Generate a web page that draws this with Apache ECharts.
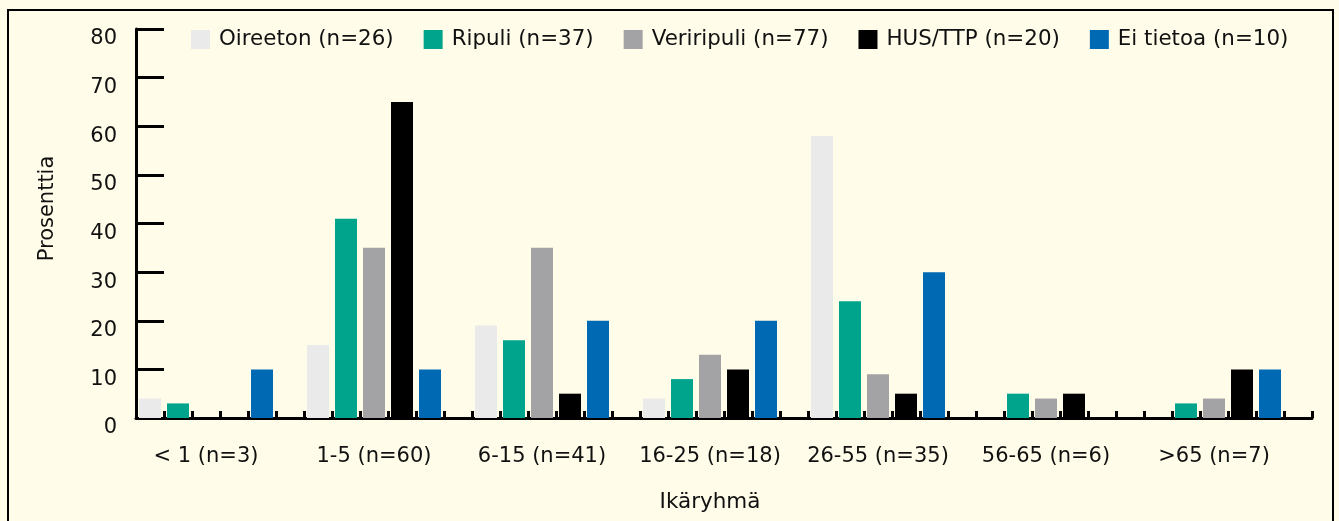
<!DOCTYPE html>
<html>
<head>
<meta charset="utf-8">
<script src="https://cdn.jsdelivr.net/npm/echarts@6/dist/echarts.min.js"></script>
<style>
html,body{margin:0;padding:0;background:#FFFCE9;}
#chart{width:1339px;height:521px;}
</style>
</head>
<body>
<div id="chart"></div>
<script>
const categories = ['< 1 (n=3)', '1-5 (n=60)', '6-15 (n=41)', '16-25 (n=18)', '26-55 (n=35)', '56-65 (n=6)', '>65 (n=7)'];
const seriesNames = ['Oireeton (n=26)', 'Ripuli (n=37)', 'Veriripuli (n=77)', 'HUS/TTP (n=20)', 'Ei tietoa (n=10)'];
const oireeton   = [4, 15, 19, 4, 58, 0, 0];
const ripuli     = [3, 41, 16, 8, 24, 5, 3];
const veriripuli = [0, 35, 35, 13, 9, 4, 4];
const husTtp     = [0, 65, 5, 10, 5, 5, 10];
const eiTietoa   = [10, 10, 20, 20, 30, 0, 10];
const yTicks = [0, 10, 20, 30, 40, 50, 60, 70, 80];
const colors = ['#EAEAEA', '#00A38B', '#A3A3A5', '#000000', '#0069B4'];

const values = [oireeton, ripuli, veriripuli, husTtp, eiTietoa];
const FONT = 'DejaVu Sans';
// slot axis: 6 slots per category (5 bars + gap) for the minor ticks
const slots = [];
categories.forEach(c => { for (let i = 0; i < 6; i++) slots.push(c + '#' + i); });

const series = values.map((v, i) => ({
  name: seriesNames[i],
  type: 'bar',
  data: v.map(x => x === 0 ? null : x),
  barWidth: 22,
  barGap: '27.3%',
  itemStyle: { color: colors[i] },
  z: 3
}));
series.push({
  name: '_gap',
  type: 'bar',
  data: categories.map(() => null),
  barWidth: 22,
  barGap: '27.3%',
  itemStyle: { color: 'transparent' }
});

const chart = echarts.init(document.getElementById('chart'));
chart.setOption({
  backgroundColor: '#FFFCE9',
  animation: false,
  textStyle: { fontFamily: FONT },
  graphic: [{
    type: 'rect',
    shape: { x: 8, y: 10, width: 1325, height: 530 },
    style: { fill: 'none', stroke: '#000', lineWidth: 2 },
    silent: true
  }],
  legend: {
    data: seriesNames,
    left: 191,
    top: 29,
    padding: 0,
    itemWidth: 19,
    itemHeight: 19,
    itemGap: 30,
    icon: 'rect',
    textStyle: { fontFamily: FONT, fontSize: 21.4, color: '#111', padding: [0, 0, 0, 4] }
  },
  grid: { left: 136, right: 27, top: 29, bottom: 103, containLabel: false },
  xAxis: [{
    type: 'category',
    data: categories,
    axisLine: { lineStyle: { color: '#000', width: 3 } },
    axisTick: { show: false },
    axisLabel: { interval: 0, color: '#111', fontSize: 21, fontFamily: FONT, margin: 28, padding: [0, 28, 0, 0] },
    name: 'Ikäryhmä',
    nameLocation: 'middle',
    nameGap: 73,
    nameTextStyle: { color: '#111', fontSize: 21.5, fontFamily: FONT, padding: [0, 28, 0, 0] }
  }, {
    type: 'category',
    data: slots,
    position: 'bottom',
    axisLine: { show: false },
    axisLabel: { show: false, interval: 0 },
    axisTick: { show: true, interval: 0, inside: true, length: 7, lineStyle: { color: '#000', width: 3 } }
  }],
  yAxis: {
    type: 'value',
    min: 0, max: 80, interval: 10,
    axisLine: { show: true, lineStyle: { color: '#000', width: 3 } },
    axisTick: { show: true, inside: true, length: 28, lineStyle: { color: '#000', width: 3 } },
    splitLine: { show: false },
    axisLabel: { color: '#111', fontSize: 21, fontFamily: FONT, margin: 19,
      verticalAlign: 'top', lineHeight: 20,
      formatter: v => yTicks.includes(v) ? String(v) : '' },
    name: 'Prosenttia',
    nameLocation: 'middle',
    nameGap: 78,
    nameTextStyle: { color: '#111', fontSize: 21, fontFamily: FONT, padding: [0, 0, 0, 30] }
  },
  series: series
});
</script>
</body>
</html>
